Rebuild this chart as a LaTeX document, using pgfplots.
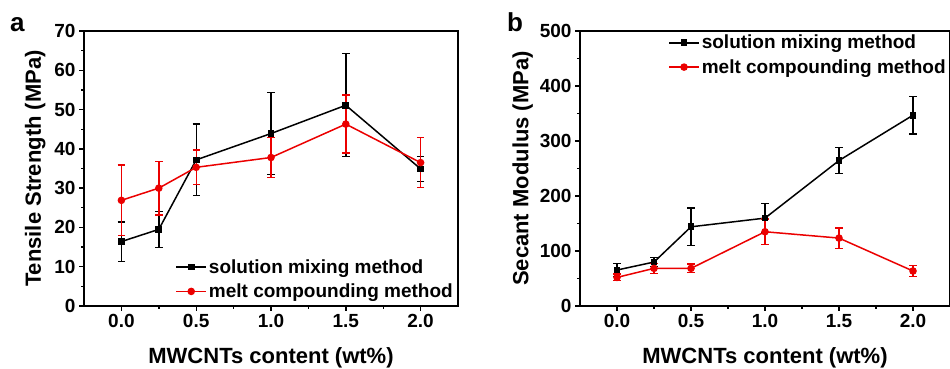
\documentclass[border=0pt]{standalone}
\usepackage{pgfplots}
\pgfplotsset{compat=1.18}
\usepackage{fontspec}
\setmainfont{Liberation Sans}
\definecolor{myred}{RGB}{235,0,0}
\pgfplotsset{
  every error bar/.append style={line width=1.4pt},
  mystyle/.style={
    scale only axis,
    axis line style={line width=1.5pt},
    tick style={line width=1.4pt, black},
    tick align=outside,
    major tick length=5pt,
    minor tick length=3pt,
    xtick pos=left, ytick pos=left,
    xmin=-0.25, xmax=2.25,
    xtick={0,0.5,1,1.5,2},
    minor x tick num=1,
    minor y tick num=1,
    /pgf/number format/assume math mode=true,
    xticklabel style={/pgf/number format/fixed,/pgf/number format/fixed zerofill,/pgf/number format/precision=1},
    tick label style={font=\fontsize{19}{19}\selectfont\bfseries},
    label style={font=\fontsize{22}{22}\selectfont\bfseries},
    xlabel style={at={(axis description cs:0.5,0)}, anchor=center, yshift=-52pt, inner sep=0pt},
    legend style={draw=none, fill=none, font=\fontsize{19}{19}\selectfont\bfseries, row sep=5pt,
      /tikz/every even column/.append style={column sep=2pt}},
    legend cell align=left,
    legend image code/.code={\draw[mark repeat=2,mark phase=2,line width=1.5pt,##1] plot coordinates {(0pt,0pt) (15pt,0pt) (30pt,0pt)};},
    xlabel={MWCNTs content (wt\%)},
  },
  blk/.style={black, line width=1.5pt, mark=square*, mark size=2.6pt, mark options={solid},
    error bars/y dir=both, error bars/y explicit,
    error bars/error bar style={line width=1.4pt},
    error bars/error mark options={rotate=90, mark size=3.7pt, line width=1.4pt}},
  rd/.style={myred, line width=1.5pt, mark=*, mark size=3pt, mark options={solid},
    error bars/y dir=both, error bars/y explicit,
    error bars/error bar style={line width=1.4pt},
    error bars/error mark options={rotate=90, mark size=3.7pt, line width=1.4pt}},
}
\begin{document}
\begin{tikzpicture}
\useasboundingbox (0,0) rectangle (950pt,369pt);
% panel a
\begin{axis}[mystyle,
  at={(84pt,63pt)}, anchor=south west,
  width=374pt, height=275pt,
  ymin=0, ymax=70, ytick={0,10,...,70},
  ylabel={Tensile Strength (MPa)},
  ylabel style={at={(axis description cs:-0.102,0.5)}, anchor=south, inner sep=0pt},
  legend style={at={(1,0.01)}, anchor=south east},
]
\addplot+[blk] coordinates {
 (0,16.4) +- (0,5.0)
 (0.25,19.5) +- (0,4.6)
 (0.5,37.2) +- (0,9.1)
 (1,43.9) +- (0,10.5)
 (1.5,51.1) +- (0,13.1)
 (2,34.9) +- (0,3.2)
};
\addlegendentry{solution mixing method}
\addplot+[rd] coordinates {
 (0,26.9) +- (0,9.0)
 (0.25,30.0) +- (0,6.8)
 (0.5,35.3) +- (0,4.4)
 (1,37.8) +- (0,5.1)
 (1.5,46.3) +- (0,7.4)
 (2,36.5) +- (0,6.4)
};
\addlegendentry{melt compounding method}
\end{axis}
% panel b
\begin{axis}[mystyle,
  at={(580pt,63pt)}, anchor=south west,
  width=370pt, height=275pt,
  ymin=0, ymax=500, ytick={0,100,...,500},
  ylabel={Secant Modulus (MPa)},
  ylabel style={at={(axis description cs:-0.127,0.5)}, anchor=south, inner sep=0pt},
  legend style={at={(0.23,1)}, anchor=north west},
]
\addplot+[blk] coordinates {
 (0,65.4) +- (0,12)
 (0.25,79.9) +- (0,8)
 (0.5,144) +- (0,34.5)
 (1,159.8) +- (0,26.5)
 (1.5,264.5) +- (0,23.5)
 (2,346.9) +- (0,34.5)
};
\addlegendentry{solution mixing method}
\addplot+[rd] coordinates {
 (0,52) +- (0,6)
 (0.25,68.4) +- (0,9)
 (0.5,68.4) +- (0,8)
 (1,135) +- (0,23.5)
 (1.5,123.5) +- (0,18.5)
 (2,63.6) +- (0,10)
};
\addlegendentry{melt compounding method}
\end{axis}
\node[anchor=base west, inner sep=0pt, font=\fontsize{26}{26}\selectfont\bfseries] at (10pt,337pt) {a};
\node[anchor=base west, inner sep=0pt, font=\fontsize{26}{26}\selectfont\bfseries] at (507pt,337pt) {b};
\end{tikzpicture}
\end{document}
